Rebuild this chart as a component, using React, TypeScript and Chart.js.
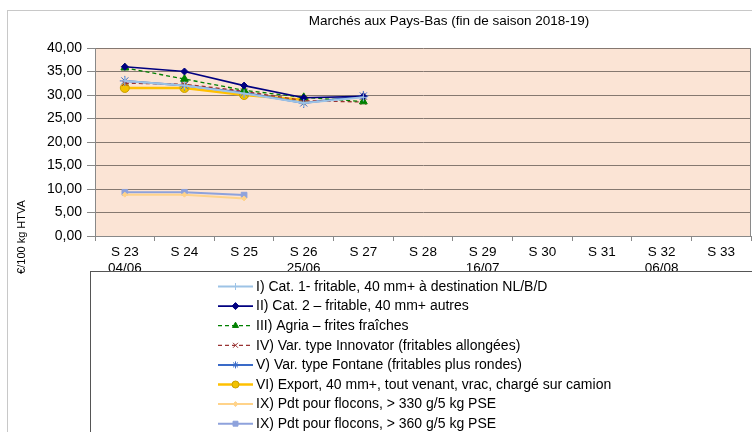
import React, { useEffect, useRef } from 'react';
import { Chart, registerables } from 'chart.js';
import { drawPoint } from 'chart.js/helpers';

Chart.register(...registerables);

const chartTitle = 'Marchés aux Pays-Bas (fin de saison 2018-19)';
const yTitle = '€/100 kg HTVA';

const categories: string[][] = [
  ['S 23', '04/06'], ['S 24'], ['S 25'], ['S 26', '25/06'], ['S 27'], ['S 28'],
  ['S 29', '16/07'], ['S 30'], ['S 31'], ['S 32', '06/08'], ['S 33'],
];

const seriesNames = [
  'I) Cat. 1- fritable, 40 mm+ à destination NL/B/D',
  'II) Cat. 2 – fritable, 40 mm+ autres',
  'III) Agria – frites fraîches',
  'IV) Var. type Innovator (fritables allongées)',
  'V) Var. type Fontane (fritables plus rondes)',
  'VI) Export, 40 mm+, tout venant, vrac, chargé sur camion',
  'IX) Pdt pour flocons, > 330 g/5 kg PSE',
  'IX) Pdt pour flocons, > 360 g/5 kg PSE',
];

const cat1 = [33.0, 32.0, 30.3, 28.3, 29.5];
const cat2 = [36.0, 35.0, 32.0, 29.4, 29.7];
const agria = [35.8, 33.4, 31.0, 29.5, 28.6];
const innovator = [32.5, 32.3, 30.8, 28.8, 28.5];
const fontane = [33.0, 32.0, 30.5, 28.3, 29.8];
const exportVals = [31.5, 31.5, 30.0, 29.0];
const flocons330 = [8.8, 8.8, 8.0];
const flocons360 = [9.3, 9.3, 8.7];

const yMin = 0;
const yMax = 40;
const yStep = 5;

const FONT = '"Liberation Sans", Arial, sans-serif';

export default function App() {
  const ref = useRef<HTMLCanvasElement>(null);

  useEffect(() => {
    if (!ref.current) return;

    const styles = [
      { color: '#9DC3E6', width: 2, dash: [], ps: 'cross', r: 4, bg: '#9DC3E6', bc: '#9DC3E6' },
      { color: '#000080', width: 1.6, dash: [], ps: 'rectRot', r: 3.5, bg: '#000080', bc: '#000080' },
      { color: '#008000', width: 1.3, dash: [4, 3], ps: 'triangle', r: 4.5, bg: '#008000', bc: '#008000' },
      { color: '#993333', width: 1.3, dash: [4, 3], ps: 'crossRot', r: 4, bg: '#993333', bc: '#993333' },
      { color: '#3A6BC8', width: 2, dash: [], ps: 'star', r: 5, bg: '#3A6BC8', bc: '#3A6BC8' },
      { color: '#FFC000', width: 2.5, dash: [], ps: 'circle', r: 4.5, bg: '#F2C200', bc: '#C9A000' },
      { color: '#FFD38A', width: 2, dash: [], ps: 'rectRot', r: 2.5, bg: '#FFD38A', bc: '#FFD38A' },
      { color: '#8EA2DC', width: 2, dash: [], ps: 'rect', r: 4, bg: '#8EA2DC', bc: '#8EA2DC' },
    ];
    const values = [cat1, cat2, agria, innovator, fontane, exportVals, flocons330, flocons360];

    const datasets = values.map((v, i) => {
      const s = styles[i];
      return {
        label: seriesNames[i],
        data: v,
        borderColor: s.color,
        backgroundColor: s.bg,
        borderWidth: s.width,
        borderDash: s.dash,
        pointStyle: s.ps,
        pointRadius: s.r,
        pointBackgroundColor: s.bg,
        pointBorderColor: s.bc,
        pointBorderWidth: 1,
        tension: 0,
        fill: false,
      };
    });

    const decor = {
      id: 'decor',
      beforeDraw(chart: any) {
        const { ctx, chartArea: a } = chart;
        ctx.save();
        ctx.fillStyle = '#ffffff';
        ctx.fillRect(0, 0, chart.width, chart.height);
        ctx.strokeStyle = '#c8c8c8';
        ctx.lineWidth = 1;
        ctx.strokeRect(7.5, 10.5, 800, 500);
        ctx.fillStyle = '#FBE4D5';
        ctx.fillRect(a.left, a.top, a.right - a.left, a.bottom - a.top);
        ctx.restore();
      },
      afterDatasetsDraw(chart: any) {
        const { ctx, chartArea: a } = chart;
        ctx.save();
        ctx.strokeStyle = '#8a8a8a';
        ctx.lineWidth = 1;
        ctx.beginPath();
        ctx.moveTo(Math.round(a.right) - 0.5, a.top);
        ctx.lineTo(Math.round(a.right) - 0.5, a.bottom);
        ctx.stroke();
        ctx.restore();
      },
      afterDraw(chart: any) {
        const { ctx } = chart;
        ctx.save();
        // title
        ctx.fillStyle = '#000';
        ctx.font = `13.5px ${FONT}`;
        ctx.textAlign = 'center';
        ctx.textBaseline = 'middle';
        ctx.fillText(chartTitle, 449, 21);
        // y title
        ctx.save();
        ctx.translate(22, 237);
        ctx.rotate(-Math.PI / 2);
        ctx.font = `11px ${FONT}`;
        ctx.fillText(yTitle, 0, 0);
        ctx.restore();
        // legend box
        ctx.fillStyle = '#ffffff';
        ctx.fillRect(90.5, 271.5, 700, 200);
        ctx.strokeStyle = '#555';
        ctx.lineWidth = 1;
        ctx.strokeRect(90.5, 271.5, 700, 200);
        chart.data.datasets.forEach((ds: any, i: number) => {
          const y = 286.5 + i * 19.6;
          ctx.save();
          ctx.strokeStyle = ds.borderColor;
          ctx.lineWidth = ds.borderWidth;
          ctx.setLineDash(ds.borderDash || []);
          ctx.beginPath();
          ctx.moveTo(218, y);
          ctx.lineTo(253, y);
          ctx.stroke();
          ctx.setLineDash([]);
          ctx.fillStyle = ds.pointBackgroundColor;
          ctx.strokeStyle = ds.pointBorderColor;
          ctx.lineWidth = 1;
          drawPoint(ctx, { pointStyle: ds.pointStyle, radius: Math.min(ds.pointRadius, 3.5), rotation: 0, borderWidth: 1 }, 235.5, y);
          ctx.restore();
          ctx.fillStyle = '#000';
          ctx.font = `14px ${FONT}`;
          ctx.textAlign = 'left';
          ctx.textBaseline = 'middle';
          ctx.fillText(ds.label, 256, y + 0.5);
        });
        ctx.restore();
      },
    };

    const chart = new Chart(ref.current, {
      type: 'line',
      data: { labels: categories, datasets: datasets as any },
      plugins: [decor],
      options: {
        animation: false,
        responsive: false,
        devicePixelRatio: 1,
        layout: { autoPadding: false, padding: { top: 48, left: 0, right: 1, bottom: 0 } },
        plugins: { legend: { display: false }, title: { display: false }, tooltip: { enabled: false } },
        scales: {
          x: {
            type: 'category',
            offset: true,
            afterFit: (s: any) => { s.height = 196; s.paddingLeft = 0; s.paddingRight = 0; },
            grid: { offset: true, drawOnChartArea: false, tickLength: 5, tickColor: '#888', color: '#888' },
            border: { display: true, color: '#888', width: 1 },
            ticks: { autoSkip: false, maxRotation: 0, minRotation: 0, padding: 3, color: '#000', font: { family: FONT, size: 13.5 } },
          },
          y: {
            min: yMin,
            max: yMax,
            afterFit: (s: any) => { s.width = 95; s.paddingTop = 0; s.paddingBottom = 0; },
            grid: { color: '#857870', tickLength: 8, tickColor: '#888', lineWidth: 1 },
            border: { display: true, color: '#888', width: 1 },
            ticks: {
              stepSize: yStep,
              padding: 5,
              color: '#000',
              font: { family: FONT, size: 14 },
              callback: (v: any) => Number(v).toFixed(2).replace('.', ','),
            },
          },
        },
      },
    });
    return () => chart.destroy();
  }, []);

  return (
    <div style={{ position: 'fixed', left: 0, top: 0, width: 752, height: 432 }}>
      <canvas ref={ref} width={752} height={432} style={{ display: 'block', width: 752, height: 432 }} />
    </div>
  );
}
